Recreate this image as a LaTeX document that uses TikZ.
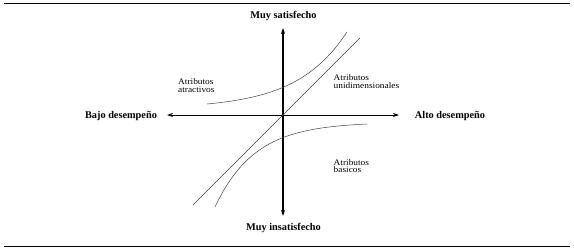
\documentclass[tikz,border=0pt]{standalone}
\usepackage{fontspec}
\setmainfont{Liberation Serif}
\newfontfamily\lblfont[FakeStretch=1.1]{Liberation Serif}
\usetikzlibrary{arrows.meta}
\begin{document}
\begin{tikzpicture}[x=1pt,y=-1pt,
  axislbl/.style={font=\bfseries\fontsize{10.3}{12}\selectfont, inner sep=0pt},
  smalllbl/.style={font=\lblfont\fontsize{8.5}{7.5}\selectfont, align=left, inner sep=0pt, anchor=north west},
  rulebar/.style={line width=1pt},
  axisv/.style={line width=1.5pt, {Stealth[length=6pt,width=4pt]}-{Stealth[length=6pt,width=4pt]}},
  axish/.style={line width=0.8pt, {Stealth[length=6pt,width=4pt]}-{Stealth[length=6pt,width=4pt]}},
  curve/.style={line width=0.5pt, black!75}
]
\useasboundingbox (0,0) rectangle (574,252);
% rules
\coordinate (r1a) at (4,3);   \coordinate (r1b) at (570,3);
\coordinate (r2a) at (4,246); \coordinate (r2b) at (570,246);
\draw[rulebar] (r1a) -- (r1b);
\draw[rulebar] (r2a) -- (r2b);
% axis labels
\node[axislbl] (top) at (283.5,16) {Muy satisfecho};
\node[axislbl] (bot) at (283.5,228) {Muy insatisfecho};
\node[axislbl] (left) at (121,116) {Bajo desempeño};
\node[axislbl] (right) at (450,116) {Alto desempeño};
% axes
\coordinate (vt) at (283,28);  \coordinate (vb) at (283,216);
\coordinate (hl) at (167,115); \coordinate (hr) at (399,115);
\draw[axish] (hl) -- (hr);
\draw[axisv] (vb) -- (vt);
% diagonal
\coordinate (d1) at (193,205); \coordinate (d2) at (360,38);
\draw[curve] (d1) -- (d2);
% curves
\draw[curve] plot[domain=0:140, samples=60] ({207+\x},{104-4.67*(exp(0.02*\x)-1)});
\draw[curve] plot[domain=0:152, samples=60] ({367-\x},{124+1.9*(exp(0.025*\x)-1)});
% small labels
\node[smalllbl] (la) at (178,78.7) {Atributos\\atractivos};
\node[smalllbl] (lu) at (333.5,74.7) {Atributos\\unidimensionales};
\node[smalllbl] (lb) at (333.5,159.2) {Atributos\\basicos};
\end{tikzpicture}
\end{document}
